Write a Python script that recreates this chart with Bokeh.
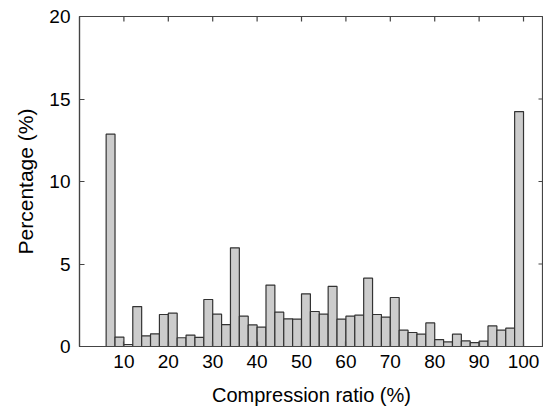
import numpy as np
from bokeh.plotting import figure
from bokeh.models import Range1d, FixedTicker, ColumnDataSource
from bokeh.embed import file_html
from bokeh.resources import INLINE

# Histogram of compression ratio (bins of width 2 %, from 6 % to 100 %)
bin_left = [6, 8, 10, 12, 14, 16, 18, 20, 22, 24, 26, 28, 30, 32, 34, 36, 38, 40,
            42, 44, 46, 48, 50, 52, 54, 56, 58, 60, 62, 64, 66, 68, 70, 72, 74, 76,
            78, 80, 82, 84, 86, 88, 90, 92, 94, 96, 98]
bin_width = 2
percentage = [12.87, 0.57, 0.12, 2.42, 0.65, 0.77, 1.94, 2.02, 0.53, 0.69, 0.55, 2.85,
              1.96, 1.33, 5.98, 1.84, 1.31, 1.17, 3.72, 2.08, 1.68, 1.66, 3.19, 2.12,
              1.96, 3.64, 1.66, 1.84, 1.90, 4.14, 1.94, 1.78, 2.97, 0.99, 0.85, 0.75,
              1.43, 0.42, 0.28, 0.75, 0.34, 0.24, 0.32, 1.25, 0.99, 1.11, 14.24]
x_ticks = [10, 20, 30, 40, 50, 60, 70, 80, 90, 100]
y_ticks = [0, 5, 10, 15, 20]
x_min, x_max = 0, 104.5
y_min, y_max = 0, 20

left = np.array(bin_left, dtype=float)
src = ColumnDataSource(dict(left=left, right=left + bin_width,
                            top=percentage, bottom=[0] * len(percentage)))

FONT = "Liberation Sans"
AXC = "#444444"

p = figure(width=543, height=408, output_backend="svg", toolbar_location=None,
           x_range=Range1d(x_min, x_max), y_range=Range1d(y_min, y_max),
           min_border_left=79, min_border_right=0, min_border_top=16, min_border_bottom=62,
           x_axis_label="Compression ratio (%)", y_axis_label="Percentage (%)")
p.grid.visible = False
p.outline_line_color = AXC
p.outline_line_width = 1.2
p.background_fill_color = "white"
p.border_fill_color = "white"

p.quad(left="left", right="right", top="top", bottom="bottom", source=src,
       fill_color="#cccccc", line_color="#333333", line_width=1.2)

# mirrored inward ticks on the top and right edges of the frame
p.ray(x=x_ticks, y=[y_max] * len(x_ticks), length=5, length_units="screen",
      angle=-np.pi / 2, line_color=AXC, line_width=1.2)
p.ray(x=[x_max] * len(y_ticks), y=y_ticks, length=5, length_units="screen",
      angle=np.pi, line_color=AXC, line_width=1.2)

def style(ax, ticks):
    ax.ticker = FixedTicker(ticks=ticks)
    ax.major_tick_in = 5
    ax.major_tick_out = 0
    ax.minor_tick_line_color = None
    ax.axis_line_color = AXC
    ax.axis_line_width = 1.2
    ax.major_tick_line_color = AXC
    ax.major_tick_line_width = 1.2
    ax.major_label_text_font = FONT
    ax.major_label_text_color = "black"

xa = p.xaxis[0]
style(xa, x_ticks)
xa.major_label_text_font_size = "19px"
xa.major_label_standoff = 8
xa.axis_label_text_font = FONT
xa.axis_label_text_font_size = "20px"
xa.axis_label_text_font_style = "normal"
xa.axis_label_text_color = "black"
xa.axis_label_standoff = 13

ya = p.yaxis[0]
style(ya, y_ticks)
ya.major_label_text_font_size = "19px"
ya.major_label_standoff = 9
ya.axis_label_text_font = FONT
ya.axis_label_text_font_size = "21px"
ya.axis_label_text_font_style = "normal"
ya.axis_label_text_color = "black"
ya.axis_label_standoff = 9

open("out.html", "w").write(file_html(p, INLINE))
